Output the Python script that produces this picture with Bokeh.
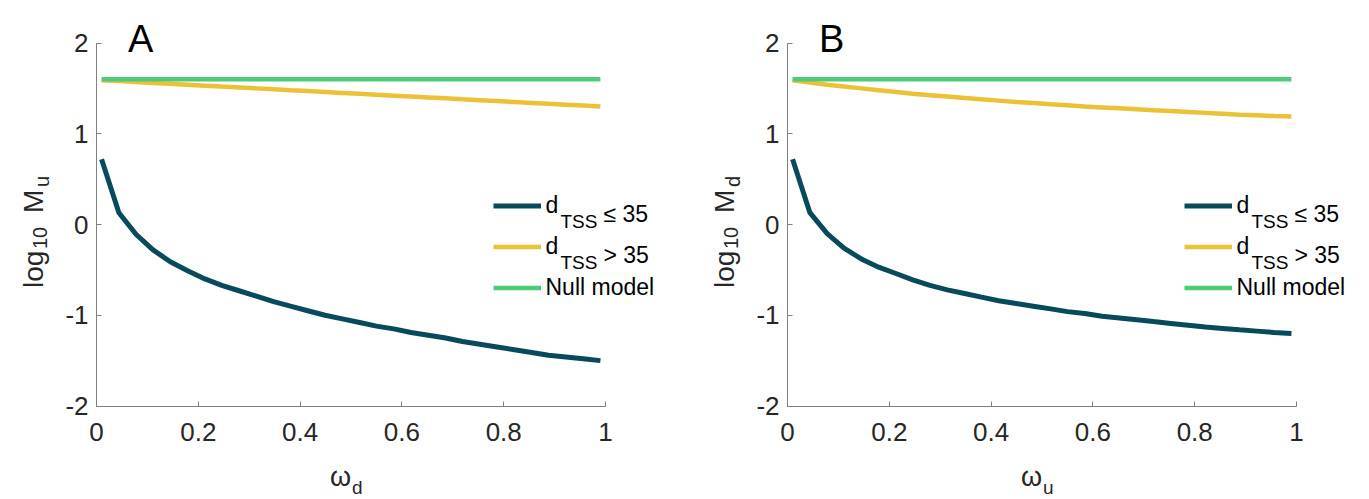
from math import pi
from bokeh.plotting import figure
from bokeh.models import Legend, LegendItem, Label, FixedTicker, Range1d, LinearAxis
from bokeh.layouts import row
from bokeh.embed import file_html
from bokeh.resources import INLINE

# ---------------- data ----------------
omega = [0.010, 0.044, 0.078, 0.111, 0.145, 0.179, 0.213, 0.246, 0.280, 0.314,
         0.348, 0.381, 0.415, 0.449, 0.483, 0.517, 0.550, 0.584, 0.618, 0.652,
         0.686, 0.719, 0.753, 0.787, 0.821, 0.855, 0.888, 0.922, 0.956, 0.990]

# Panel A: log10 M_u vs omega_d
a_near = [0.72, 0.13, -0.11, -0.28, -0.41, -0.51, -0.60, -0.67, -0.73, -0.79,
          -0.85, -0.90, -0.95, -1.00, -1.04, -1.08, -1.12, -1.15, -1.19, -1.22,
          -1.25, -1.29, -1.32, -1.35, -1.38, -1.41, -1.44, -1.46, -1.48, -1.50]
a_far = [1.59, 1.58, 1.57, 1.56, 1.55, 1.54, 1.53, 1.52, 1.51, 1.50,
         1.49, 1.48, 1.47, 1.46, 1.45, 1.44, 1.43, 1.42, 1.41, 1.40,
         1.39, 1.38, 1.37, 1.36, 1.35, 1.34, 1.33, 1.32, 1.31, 1.30]
a_null = [1.60] * 30

# Panel B: log10 M_d vs omega_u
b_near = [0.72, 0.13, -0.10, -0.26, -0.38, -0.47, -0.54, -0.61, -0.67, -0.72,
          -0.76, -0.80, -0.84, -0.87, -0.90, -0.93, -0.96, -0.98, -1.01, -1.03,
          -1.05, -1.07, -1.09, -1.11, -1.13, -1.145, -1.16, -1.175, -1.19, -1.20]
b_far = [1.59, 1.565, 1.54, 1.52, 1.50, 1.48, 1.46, 1.44, 1.425, 1.41,
         1.395, 1.38, 1.365, 1.35, 1.34, 1.325, 1.315, 1.30, 1.29, 1.28,
         1.27, 1.26, 1.25, 1.24, 1.23, 1.22, 1.21, 1.205, 1.195, 1.19]
b_null = [1.60] * 30

x_ticks = [0, 0.2, 0.4, 0.6, 0.8, 1]
x_tick_labels = ["0", "0.2", "0.4", "0.6", "0.8", "1"]
y_ticks = [-2, -1, 0, 1, 2]
y_tick_labels = ["-2", "-1", "0", "1", "2"]

legend_rel = ["\u2264 35", "> 35"]

C_NEAR = "#064A5B"
C_FAR = "#EBC135"
C_NULL = "#4FC97B"
FONT = "Liberation Sans"
TXT = "#262626"

# layout (pixels): axes box inside each canvas
H = 499
BOX_L, BOX_T = 96.0, 42.5
FW, FH = 509.0, 363.0
XMIN, XMAX, YMIN, YMAX = 0.0, 1.0, -2.0, 2.0
SX = FW / (XMAX - XMIN)
SY = FH / (YMAX - YMIN)


def px2x(dx):
    """dx: pixels from the left edge of the axes box"""
    return XMIN + dx / SX


def px2y(dy):
    """dy: pixels from the top edge of the axes box"""
    return YMAX - dy / SY


def lab(p, x, y, text, size, angle=0.0, align="left", color=TXT):
    p.add_layout(Label(x=x, y=y, text=text, text_font=FONT,
                       text_font_size=f"{size}px", text_color=color,
                       angle=angle, text_align=align,
                       text_baseline="alphabetic"))


def panel(letter, x, near, far, null, ysub, xsub, width):
    xr = Range1d(px2x(-BOX_L), px2x(width - BOX_L))
    yr = Range1d(px2y(H - BOX_T), px2y(-BOX_T))
    p = figure(width=width, height=H, output_backend="svg",
               toolbar_location=None, x_range=xr, y_range=yr,
               x_axis_location=None, y_axis_location=None,
               min_border=0)
    p.outline_line_color = None
    p.xgrid.visible = False
    p.ygrid.visible = False

    xax = LinearAxis(fixed_location=YMIN, bounds=(XMIN, XMAX))
    yax = LinearAxis(fixed_location=XMIN, bounds=(YMIN, YMAX))
    p.add_layout(xax, "below")
    p.add_layout(yax, "left")
    for ax, ticks, labels in ((xax, x_ticks, x_tick_labels),
                              (yax, y_ticks, y_tick_labels)):
        ax.ticker = FixedTicker(ticks=ticks)
        ax.major_label_overrides = {t: l for t, l in zip(ticks, labels)}
        ax.axis_line_color = "#808080"
        ax.major_tick_line_color = "#808080"
        ax.minor_tick_line_color = None
        ax.major_tick_in = 5
        ax.major_tick_out = 0
        ax.major_label_text_font = FONT
        ax.major_label_text_font_size = "26px"
        ax.major_label_text_color = TXT
    xax.major_label_standoff = 17
    yax.major_label_standoff = 8

    r_near = p.line(x, near, line_color=C_NEAR, line_width=5)
    r_far = p.line(x, far, line_color=C_FAR, line_width=4.5)
    r_null = p.line(x, null, line_color=C_NULL, line_width=4.5)

    leg = Legend(items=[LegendItem(label="d", renderers=[r_near]),
                        LegendItem(label="d", renderers=[r_far]),
                        LegendItem(label="Null model", renderers=[r_null])],
                 location=(BOX_L + 396.5, H - (BOX_T + 162.5 + 82 + 20.5)),
                 glyph_width=48, glyph_height=41,
                 label_height=41, spacing=0, padding=0, margin=0,
                 label_standoff=5, border_line_color=None,
                 background_fill_alpha=0,
                 label_text_font=FONT, label_text_font_size="23px",
                 label_text_color="black")
    p.add_layout(leg)
    # subscripts and relations of legend labels
    for i, rel in enumerate(legend_rel):
        cy = 162.5 + 41 * i
        lab(p, px2x(464), px2y(cy + 16), "TSS", 19, color="black")
        lab(p, px2x(507), px2y(cy + 8), rel, 23, color="black")

    # panel letter
    lab(p, px2x(31.5), px2y(-4.5), letter, 38, color="black")

    # y-axis label (rotated), pieces
    lab(p, px2x(-63.5), px2y(245), "log", 28, angle=pi / 2)
    lab(p, px2x(-57), px2y(206), "10", 20, angle=pi / 2)
    lab(p, px2x(-63.5), px2y(170), "M", 28, angle=pi / 2)
    lab(p, px2x(-55), px2y(144), ysub, 20, angle=pi / 2)

    # x-axis label
    lab(p, px2x(244), px2y(434), "\u03c9", 27, align="center")
    lab(p, px2x(255.5), px2y(444), xsub, 19)
    return p


pa = panel("A", omega, a_near, a_far, a_null, "u", "d", 691)
pb = panel("B", omega, b_near, b_far, b_null, "d", "u", 677)

layout = row(pa, pb)
open("out.html", "w").write(file_html(layout, INLINE))
